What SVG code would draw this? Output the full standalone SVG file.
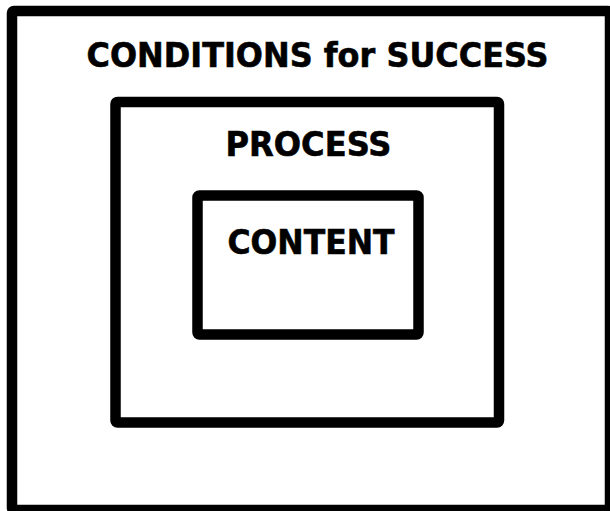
<svg xmlns="http://www.w3.org/2000/svg" width="610" height="511" viewBox="0 0 610 511">
<style>
.box{fill:none;stroke:#000;stroke-width:10.5;stroke-linejoin:round}
.lbl{font-family:"DejaVu Sans",Verdana,sans-serif;font-weight:bold;font-size:33px;fill:#000;stroke:#000;stroke-width:0.6;text-anchor:middle}
</style>
<rect width="610" height="511" fill="#fff"/>
<g id="conditions">
<rect class="box" x="12" y="11" width="598" height="499" rx="2"/>
<text class="lbl" x="317.5" y="67" textLength="462" lengthAdjust="spacingAndGlyphs">CONDITIONS for SUCCESS</text>
</g>
<g id="process">
<rect class="box" x="115.5" y="102" width="383.5" height="320.5" rx="2"/>
<text class="lbl" x="308.5" y="156" textLength="166" lengthAdjust="spacingAndGlyphs">PROCESS</text>
</g>
<g id="content">
<rect class="box" x="197.5" y="195.5" width="221" height="139" rx="2"/>
<text class="lbl" x="311" y="254" textLength="167" lengthAdjust="spacingAndGlyphs">CONTENT</text>
</g>
<g id="connectors"/>
</svg>
